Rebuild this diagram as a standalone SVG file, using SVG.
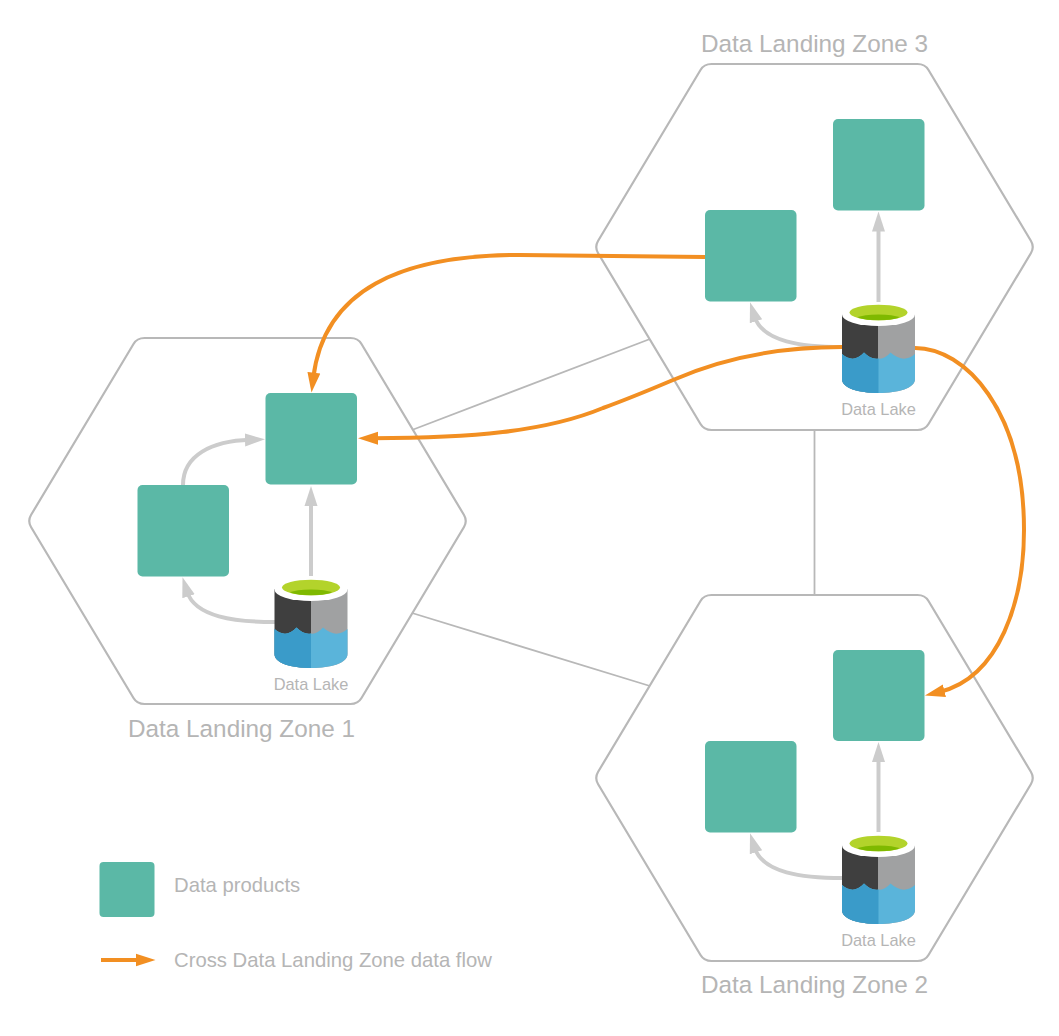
<svg xmlns="http://www.w3.org/2000/svg" xmlns:xlink="http://www.w3.org/1999/xlink" width="1059" height="1036" viewBox="0 0 1059 1036">
<style>
.hex{fill:none;stroke:#b8b8b8;stroke-width:2.2}
.link{fill:none;stroke:#b8b8b8;stroke-width:1.8}
.dp{fill:#5bb8a6}
.flow{fill:none;stroke:#cccccc;stroke-width:4}
.cross{fill:none;stroke:#f28f22;stroke-width:4}
text{font-family:"Liberation Sans",Arial,sans-serif;fill:#b5b5b5}
.zone{font-size:24.3px;text-anchor:middle}
.lk{font-size:16.4px;text-anchor:middle}
.leg{font-size:20.300px}
</style>
<defs>
<marker id="ag" markerUnits="userSpaceOnUse" markerWidth="20" markerHeight="16" refX="5" refY="8" orient="auto"><path d="M0 1.500L20 8L0 14.500Z" fill="#cccccc"/></marker>
<marker id="ao" markerUnits="userSpaceOnUse" markerWidth="20" markerHeight="16" refX="5" refY="8" orient="auto"><path d="M0 1.500L20 8L0 14.500Z" fill="#f28f22"/></marker>
<path id="hexagon" class="hex" d="M-216.500 -6L-114 -177Q-110.500 -183 -103 -183H103Q110.500 -183 114 -177L216.500 -6Q220 0 216.500 6L114 177Q110.500 183 103 183H-103Q-110.500 183 -114 177L-216.500 6Q-220 0 -216.500 -6Z"/>
<g id="lake">
<path d="M-36.500 10H0V89C-20 89 -36.500 84 -36.500 75Z" fill="#3f3f3f"/>
<path d="M0 10H36.500V75C36.500 84 20 89 0 89Z" fill="#a0a1a2"/>
<path d="M-36.500 50Q-25 60 -14.500 48.500Q-7 56 0 54.500Q6 55.500 12 48.500Q25 60 36.500 50V75C36.500 84 20 89 0 89C-20 89 -36.500 84 -36.500 75Z" fill="#5ab4da"/>
<path d="M-36.500 50Q-25 60 -14.500 48.500Q-7 56 0 54.500V89C-20 89 -36.500 84 -36.500 75Z" fill="#3a9bc9"/>
<ellipse cx="0" cy="10.500" rx="36.500" ry="11.500" fill="#ffffff"/>
<ellipse cx="0" cy="8.500" rx="29" ry="7.800" fill="#b3d32b"/>
<path d="M-21 13.800Q-15 10.500 0 10.500Q15 10.500 21 13.800Q12 16.300 0 16.300Q-12 16.300 -21 13.800Z" fill="#7fb900"/>
</g>
</defs>
<g id="links">
<path class="link" d="M412 430L650 339"/>
<path class="link" d="M412 613L650 686"/>
<path class="link" d="M814.500 430V595"/>
</g>
<g id="zone1"><use xlink:href="#hexagon" href="#hexagon" x="247.500" y="521"/><text class="zone" x="241.500" y="737">Data Landing Zone 1</text></g>
<g id="zone2"><use xlink:href="#hexagon" href="#hexagon" x="814.500" y="778"/><text class="zone" x="814.500" y="993">Data Landing Zone 2</text></g>
<g id="zone3"><use xlink:href="#hexagon" href="#hexagon" x="814.500" y="247"/><text class="zone" x="814.500" y="52">Data Landing Zone 3</text></g>
<g id="connectors">
<path class="flow" marker-end="url(#ag)" d="M311 576V501"/>
<path class="flow" marker-end="url(#ag)" d="M275 622C235 622 195 617 187 591.500"/>
<path class="flow" marker-end="url(#ag)" d="M183 485C183 455 212 441 250 439.800"/>
<path class="flow" marker-end="url(#ag)" d="M878.500 302V226.500"/>
<path class="flow" marker-end="url(#ag)" d="M842.500 347C802.500 347 762.500 342 754.500 316.500"/>
<path class="flow" marker-end="url(#ag)" d="M878.500 832V757"/>
<path class="flow" marker-end="url(#ag)" d="M842.500 878C802.500 878 762.500 873 754.500 847.500"/>
</g>
<g id="dp1a"><rect class="dp" x="265.500" y="393" width="91.500" height="91.500" rx="5"/></g>
<g id="dp1b"><rect class="dp" x="137.500" y="485" width="91.500" height="91.500" rx="5"/></g>
<g id="dp2a"><rect class="dp" x="833" y="650" width="91.500" height="91" rx="5"/></g>
<g id="dp2b"><rect class="dp" x="705" y="741" width="91.500" height="91.500" rx="5"/></g>
<g id="dp3a"><rect class="dp" x="833" y="119" width="91.500" height="91.500" rx="5"/></g>
<g id="dp3b"><rect class="dp" x="705" y="210" width="91.500" height="91.500" rx="5"/></g>
<g id="lake1"><use xlink:href="#lake" href="#lake" x="311" y="579"/><text class="lk" x="311" y="689.500">Data Lake</text></g>
<g id="lake2"><use xlink:href="#lake" href="#lake" x="878.500" y="835"/><text class="lk" x="878.500" y="945.500">Data Lake</text></g>
<g id="lake3"><use xlink:href="#lake" href="#lake" x="878.500" y="304"/><text class="lk" x="878.500" y="414.500">Data Lake</text></g>
<g id="crossflows">
<path class="cross" marker-end="url(#ao)" d="M705 257L520 255C400 255 324 290 313.300 377.700"/>
<path class="cross" marker-end="url(#ao)" d="M842 347C780 347 725 357 673 380C640 394 625 400 603 408C545 432 470 438 373 438.300"/>
<path class="cross" marker-end="url(#ao)" d="M915 348C965 348 1024 410 1024 530C1024 600 1000 677 939.500 692"/>
</g>
<g id="legend">
<rect class="dp" x="99.500" y="862" width="55" height="55" rx="4"/>
<text class="leg" x="174" y="892">Data products</text>
<path class="cross" marker-end="url(#ao)" d="M101 960H140.500"/>
<text class="leg" x="174" y="967">Cross Data Landing Zone data flow</text>
</g>
</svg>
